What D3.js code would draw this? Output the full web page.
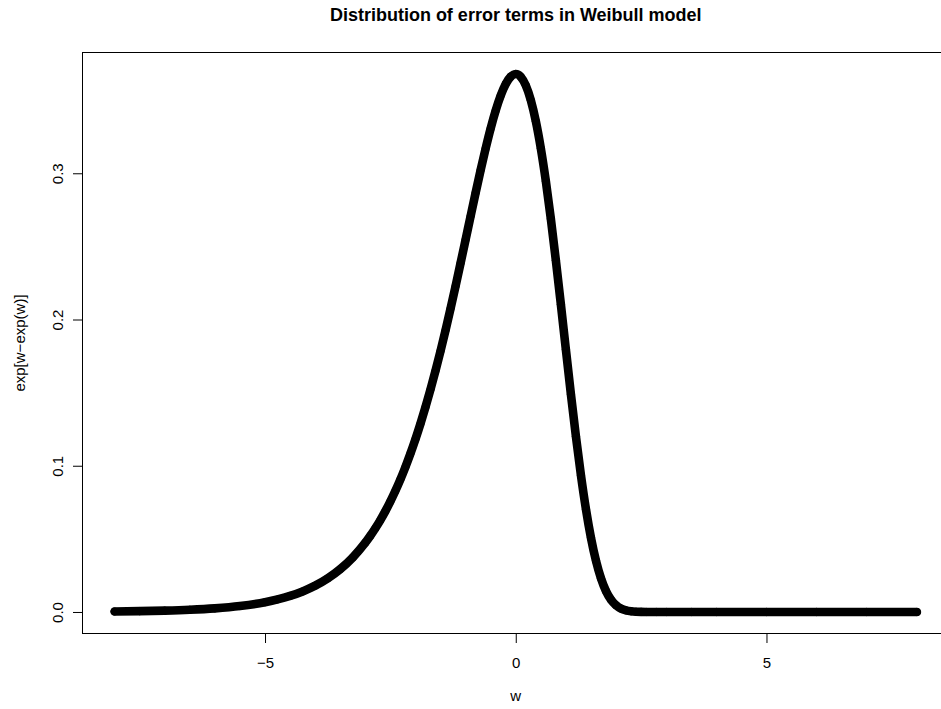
<!DOCTYPE html>
<html><head><meta charset="utf-8">
<script src="https://cdn.jsdelivr.net/npm/d3@7"></script>
<style>body{margin:0;background:#fff}svg{display:block}</style>
</head><body><svg id="chart" width="941" height="709"></svg>
<script>
// ---- data ----
const wValues = [-8,-7.5,-7,-6.5,-6,-5.5,-5,-4.75,-4.5,-4.25,-4,-3.75,-3.5,-3.25,-3,
  -2.9,-2.8,-2.7,-2.6,-2.5,-2.4,-2.3,-2.2,-2.1,-2,-1.9,-1.8,-1.7,-1.6,-1.5,-1.4,-1.3,-1.2,-1.1,
  -1,-0.9,-0.8,-0.7,-0.6,-0.5,-0.4,-0.3,-0.2,-0.1,0,0.1,0.2,0.3,0.4,0.5,0.6,0.7,0.8,0.9,
  1,1.1,1.2,1.3,1.4,1.5,1.6,1.7,1.8,1.9,2,2.1,2.2,2.3,2.4,2.5,2.6,2.8,3,3.5,4,5,6,7,8];
const densityValues = [0.000335,0.000553,0.000911,0.001501,0.002473,0.004070,0.006693,0.008577,0.010986,0.014062,0.017984,0.022971,0.029299,0.037300,0.047369,
  0.052077,0.057222,0.062838,0.068957,0.075617,0.082851,0.090694,0.099181,0.108342,0.118204,0.128791,0.140114,0.152181,0.164986,0.178504,0.192706,0.207523,0.222868,0.238628,
  0.254646,0.270747,0.286695,0.302232,0.317015,0.330705,0.342902,0.353177,0.361060,0.366104,0.367879,0.365983,0.360083,0.349993,0.335608,0.317039,0.294611,0.268808,0.240374,0.210208,
  0.179374,0.148947,0.120019,0.093545,0.070285,0.050709,0.034979,0.022963,0.014271,0.008347,0.004568,0.002317,0.001086,0.000465,0.000180,0.000062,0.000019,0.000001,0,0,0,0,0,0,0];
const xTickValues = [-5, 0, 5];
const yTickValues = [0, 0.1, 0.2, 0.3];
const titleText = "Distribution of error terms in Weibull model";
const xLabelText = "w";
const yLabelText = "exp[w\u2212exp(w)]";

// ---- drawing ----
const svg = d3.select("#chart");
const font = "'Liberation Sans', Arial, Helvetica, sans-serif";
const plot = {left: 82.5, right: 949, top: 52.5, bottom: 633.5};

const xExt = d3.extent(wValues), yExt = d3.extent(densityValues);
const xPad = (xExt[1] - xExt[0]) * 0.04, yPad = (yExt[1] - yExt[0]) * 0.04;
const x = d3.scaleLinear().domain([xExt[0] - xPad, xExt[1] + xPad]).range([plot.left, plot.right]);
const y = d3.scaleLinear().domain([yExt[0] - yPad, yExt[1] + yPad]).range([plot.bottom, plot.top]);

svg.append("rect").attr("width", 941).attr("height", 709).attr("fill", "#fff");

const points = wValues.map((w, i) => ({w: w, d: densityValues[i]}));

// dense band of symbols
const line = d3.line().x(p => x(p.w)).y(p => y(p.d)).curve(d3.curveMonotoneX);
svg.append("path").datum(points)
  .attr("d", line)
  .attr("fill", "none").attr("stroke", "#000")
  .attr("stroke-width", 8.6)
  .attr("stroke-linecap", "round").attr("stroke-linejoin", "round");

svg.append("g").selectAll("circle").data(points).join("circle")
  .attr("cx", p => x(p.w)).attr("cy", p => y(p.d))
  .attr("r", 3.7).attr("fill", "none").attr("stroke", "#000").attr("stroke-width", 0.8);

// box
svg.append("rect")
  .attr("x", plot.left).attr("y", plot.top)
  .attr("width", plot.right - plot.left).attr("height", plot.bottom - plot.top)
  .attr("fill", "none").attr("stroke", "#000").attr("stroke-width", 1);

// x axis
const gx = svg.append("g").attr("transform", `translate(0,${plot.bottom})`)
  .call(d3.axisBottom(x).tickValues(xTickValues).tickSize(9.5).tickFormat(d3.format("d")));
gx.select(".domain").remove();
gx.selectAll("line").attr("stroke", "#000");
gx.selectAll("text").attr("y", 34.5).attr("dy", null)
  .attr("font-family", font).attr("font-size", 15).attr("fill", "#000");

// y axis
const gy = svg.append("g").attr("transform", `translate(${plot.left},0)`)
  .call(d3.axisLeft(y).tickValues(yTickValues).tickSize(9.5).tickFormat(d3.format(".1f")));
gy.select(".domain").remove();
gy.selectAll("line").attr("stroke", "#000");
gy.selectAll("text").attr("x", null).attr("dy", null)
  .attr("text-anchor", "middle")
  .attr("transform", `translate(${63 - plot.left},0) rotate(-90)`)
  .attr("font-family", font).attr("font-size", 15).attr("fill", "#000");

// title and labels
const cx = (plot.left + plot.right) / 2;
svg.append("text").attr("x", cx).attr("y", 21).attr("text-anchor", "middle")
  .attr("font-family", font).attr("font-size", 18).attr("font-weight", "bold").text(titleText);
svg.append("text").attr("x", cx).attr("y", 701).attr("text-anchor", "middle")
  .attr("font-family", font).attr("font-size", 15).text(xLabelText);
svg.append("text").attr("transform", `translate(25,${(plot.top + plot.bottom) / 2}) rotate(-90)`)
  .attr("text-anchor", "middle")
  .attr("font-family", font).attr("font-size", 15).text(yLabelText);
</script>
</body></html>
